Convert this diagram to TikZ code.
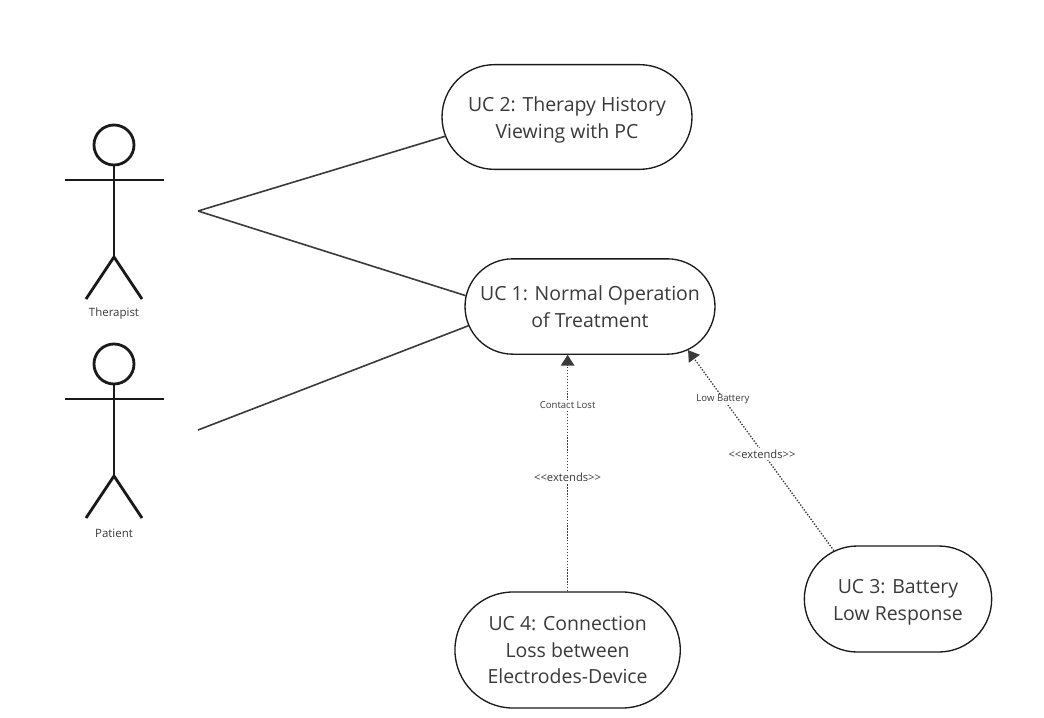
\documentclass[tikz,border=0pt]{standalone}
\usepackage{fontspec}
\setmainfont{Open Sans}
\usetikzlibrary{shapes.misc, arrows.meta, backgrounds}

\definecolor{inkline}{HTML}{1A1A1A}
\definecolor{inktext}{HTML}{3A3A3A}
\newcommand{\lowline}{\rule{0pt}{15.8pt}}

\begin{document}
\begin{tikzpicture}[x=0.75pt,y=-0.75pt,
    uc node/.style={rounded rectangle,draw=inkline,fill=white,line width=1pt,inner sep=0pt,align=center,text=inktext,font=\fontsize{14.6}{20}\selectfont},
    small label/.style={fill=white,inner sep=1pt,text=inktext,font=\fontsize{7.2}{9}\selectfont},
    actor label/.style={small label,font=\fontsize{8.6}{10}\selectfont},
    extends label/.style={small label,font=\fontsize{8.4}{10}\selectfont},
    actor line/.style={draw=inkline,line width=2.1pt},
    link/.style={draw=inktext,line width=1.2pt},
    extend/.style={draw=inktext,line width=1pt,dash pattern=on 1pt off 1.2pt,-{Triangle[length=8pt,width=10pt,fill=inktext]}}]

\useasboundingbox (0,0) rectangle (1044,717);

%Actors
 \foreach \name/\y/\txt in {Therapist/0/Therapist,Patient/219/Patient}
   {\node [circle,actor line,minimum size=30pt,inner sep=0pt] (head\name) at (114,145+\y) {};
    \coordinate (hip\name) at (114,257+\y);
    \coordinate (armL\name) at (65,180+\y);
    \coordinate (armR\name) at (164,180+\y);
    \coordinate (legL\name) at (86,299+\y);
    \coordinate (legR\name) at (142,299+\y);
    \draw [actor line] (head\name) -- (hip\name) (armL\name) -- (armR\name);
    \draw [actor line] (legL\name) -- (hip\name) -- (legR\name);
    \node [actor label] (label\name) at (114,314+\y) {\txt};}

%Use cases
 \node [uc node,minimum width=187.5pt,minimum height=78.5pt] (uc2) at (567,117) {\lowline UC 2: Therapy History\\Viewing with PC};
 \node [uc node,minimum width=187.5pt,minimum height=71.5pt] (uc1) at (590,306.5) {UC 1: Normal Operation\\of Treatment};
 \node [uc node,minimum width=169pt,minimum height=87pt] (uc4) at (567.6,650) {UC 4: Connection\\Loss between\\Electrodes-Device};
 \node [uc node,minimum width=140.5pt,minimum height=79.5pt] (uc3) at (898,599) {\lowline UC 3: Battery\\Low Response};

%Associations
 \coordinate (therapistEnd) at (198,211);
 \coordinate (patientEnd) at (198,430);
 \begin{scope}[on background layer]
 \draw [link] (therapistEnd) -- (uc2.189.5);
 \draw [link] (therapistEnd) -- (uc1.175.7);
 \draw [link] (patientEnd) -- (uc1.189.4);
 \end{scope}

%Extends
 \coordinate (contactEnd) at (uc4.north |- uc1.south);
 \draw [extend] (uc4.north) -- (contactEnd);
 \draw [extend] (uc3.143) -- (uc1.336);
 \node [small label] (contactLabel) at (567.6,405) {Contact Lost};
 \node [extends label] (extendsLeft) at (567.6,477) {<{}<extends>{}>};
 \node [small label] (batteryLabel) at (723,399.5) {Low Battery};
 \node [extends label] (extendsRight) at (762,454) {<{}<extends>{}>};

\end{tikzpicture}
\end{document}
